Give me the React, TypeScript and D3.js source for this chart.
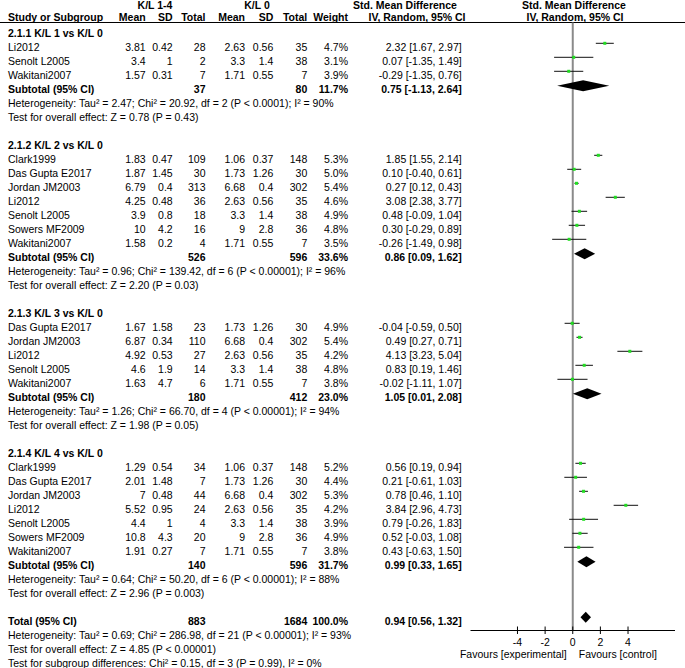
import React from "react";
import * as d3 from "d3";

// ---------- data ----------
const groupTitles = [
  "2.1.1 K/L 1 vs K/L 0",
  "2.1.2 K/L 2 vs K/L 0",
  "2.1.3 K/L 3 vs K/L 0",
  "2.1.4 K/L 4 vs K/L 0",
];

const studyGroup = [0, 0, 0, 1, 1, 1, 1, 1, 1, 1, 2, 2, 2, 2, 2, 3, 3, 3, 3, 3, 3, 3];
const studyNames = [
  "Li2012", "Senolt L2005", "Wakitani2007",
  "Clark1999", "Das Gupta E2017", "Jordan JM2003", "Li2012", "Senolt L2005", "Sowers MF2009", "Wakitani2007",
  "Das Gupta E2017", "Jordan JM2003", "Li2012", "Senolt L2005", "Wakitani2007",
  "Clark1999", "Das Gupta E2017", "Jordan JM2003", "Li2012", "Senolt L2005", "Sowers MF2009", "Wakitani2007",
];
const expMean = [3.81, 3.4, 1.57, 1.83, 1.87, 6.79, 4.25, 3.9, 10, 1.58, 1.67, 6.87, 4.92, 4.6, 1.63, 1.29, 2.01, 7, 5.52, 4.4, 10.8, 1.91];
const expSD = [0.42, 1, 0.31, 0.47, 1.45, 0.4, 0.48, 0.8, 4.2, 0.2, 1.58, 0.34, 0.53, 1.9, 4.7, 0.54, 1.48, 0.48, 0.95, 1, 4.3, 0.27];
const expN = [28, 2, 7, 109, 30, 313, 36, 18, 16, 4, 23, 110, 27, 14, 6, 34, 7, 44, 24, 4, 20, 7];
const ctlMean = [2.63, 3.3, 1.71, 1.06, 1.73, 6.68, 2.63, 3.3, 9, 1.71, 1.73, 6.68, 2.63, 3.3, 1.71, 1.06, 1.73, 6.68, 2.63, 3.3, 9, 1.71];
const ctlSD = [0.56, 1.4, 0.55, 0.37, 1.26, 0.4, 0.56, 1.4, 2.8, 0.55, 1.26, 0.4, 0.56, 1.4, 0.55, 0.37, 1.26, 0.4, 0.56, 1.4, 2.8, 0.55];
const ctlN = [35, 38, 7, 148, 30, 302, 35, 38, 36, 7, 30, 302, 35, 38, 7, 148, 30, 302, 35, 38, 36, 7];
const weights = [4.7, 3.1, 3.9, 5.3, 5.0, 5.4, 4.6, 4.9, 4.8, 3.5, 4.9, 5.4, 4.2, 4.8, 3.8, 5.2, 4.4, 5.3, 4.2, 3.9, 4.9, 3.8];
const smd = [2.32, 0.07, -0.29, 1.85, 0.10, 0.27, 3.08, 0.48, 0.30, -0.26, -0.04, 0.49, 4.13, 0.83, -0.02, 0.56, 0.21, 0.78, 3.84, 0.79, 0.52, 0.43];
const ciLow = [1.67, -1.35, -1.35, 1.55, -0.40, 0.12, 2.38, -0.09, -0.29, -1.49, -0.59, 0.27, 3.23, 0.19, -1.11, 0.19, -0.61, 0.46, 2.96, -0.26, -0.03, -0.63];
const ciHigh = [2.97, 1.49, 0.76, 2.14, 0.61, 0.43, 3.77, 1.04, 0.89, 0.98, 0.50, 0.71, 5.04, 1.46, 1.07, 0.94, 1.03, 1.10, 4.73, 1.83, 1.08, 1.50];

const subExpN = [37, 526, 180, 140];
const subCtlN = [80, 596, 412, 596];
const subWeight = [11.7, 33.6, 23.0, 31.7];
const subSmd = [0.75, 0.86, 1.05, 0.99];
const subLow = [-1.13, 0.09, 0.01, 0.33];
const subHigh = [2.64, 1.62, 2.08, 1.65];
const subHet = [
  "Heterogeneity: Tau² = 2.47; Chi² = 20.92, df = 2 (P < 0.0001); I² = 90%",
  "Heterogeneity: Tau² = 0.96; Chi² = 139.42, df = 6 (P < 0.00001); I² = 96%",
  "Heterogeneity: Tau² = 1.26; Chi² = 66.70, df = 4 (P < 0.00001); I² = 94%",
  "Heterogeneity: Tau² = 0.64; Chi² = 50.20, df = 6 (P < 0.00001); I² = 88%",
];
const subTest = [
  "Test for overall effect: Z = 0.78 (P = 0.43)",
  "Test for overall effect: Z = 2.20 (P = 0.03)",
  "Test for overall effect: Z = 1.98 (P = 0.05)",
  "Test for overall effect: Z = 2.96 (P = 0.003)",
];

const totalExpN = 883;
const totalCtlN = 1684;
const totalWeight = 100.0;
const totalSmd = [0.94, 0.56, 1.32];
const totalTexts = [
  "Heterogeneity: Tau² = 0.69; Chi² = 286.98, df = 21 (P < 0.00001); I² = 93%",
  "Test for overall effect: Z = 4.85 (P < 0.00001)",
  "Test for subgroup differences: Chi² = 0.15, df = 3 (P = 0.99), I² = 0%",
];

const axisTicks = [-4, -2, 0, 2, 4];
const axisDomain = [-7.4, 7.4];
const favoursLeft = "Favours [experimental]";
const favoursRight = "Favours [control]";

// ---------- layout ----------
const W = 685;
const H = 668;
const FONT = "'Liberation Sans', Arial, Helvetica, sans-serif";
const FS = 10.5;
const rowText = (i: number) => 37 + 14 * i;
const rowMark = (i: number) => 29.3 + 14 * i;
const COL = { name: 8, m1: 145.7, sd1: 172.7, n1: 205.5, m2: 245, sd2: 273.3, n2: 307.3, w: 348, ci: 461.7 };
const AXIS_Y = 630.5;
const TOP_LINE = 22.5;

const fmtCI = (m: number, l: number, h: number) => `${m.toFixed(2)} [${l.toFixed(2)}, ${h.toFixed(2)}]`;

type Row =
  | { kind: "title"; text: string; i: number }
  | { kind: "study"; s: number; i: number }
  | { kind: "sub"; g: number; i: number }
  | { kind: "note"; text: string; i: number }
  | { kind: "total"; i: number };

export default function App() {
  const x = d3.scaleLinear().domain(axisDomain).range([470.5, 675]);

  const rows: Row[] = [];
  let r = 0;
  groupTitles.forEach((t, g) => {
    rows.push({ kind: "title", text: t, i: r++ });
    studyNames.forEach((_, s) => {
      if (studyGroup[s] === g) rows.push({ kind: "study", s, i: r++ });
    });
    rows.push({ kind: "sub", g, i: r++ });
    rows.push({ kind: "note", text: subHet[g], i: r++ });
    rows.push({ kind: "note", text: subTest[g], i: r++ });
    r++;
  });
  rows.push({ kind: "total", i: r++ });
  totalTexts.forEach((t) => rows.push({ kind: "note", text: t, i: r++ }));

  const diamond = (m: number, l: number, h: number, y: number, hh = 5.5) =>
    `M${x(l)},${y} L${x(m)},${y - hh} L${x(h)},${y} L${x(m)},${y + hh} Z`;

  const T = (props: any) => (
    <text fontFamily={FONT} fontSize={FS} fill="#000" {...props} />
  );

  return (
    <svg width={W} height={H} style={{ position: "absolute", left: 0, top: 0, background: "#fff" }}>
      <rect width={W} height={H} fill="#fff" />
      {/* headers */}
      <T x={155} y={9} textAnchor="middle" fontWeight="bold">K/L 1-4</T>
      <T x={257} y={9} textAnchor="middle" fontWeight="bold">K/L 0</T>
      <T x={405} y={9} textAnchor="middle" fontWeight="bold">Std. Mean Difference</T>
      <T x={574} y={9} textAnchor="middle" fontWeight="bold">Std. Mean Difference</T>
      <T x={COL.name} y={20.5} fontWeight="bold">Study or Subgroup</T>
      <T x={COL.m1} y={20.5} textAnchor="end" fontWeight="bold">Mean</T>
      <T x={COL.sd1} y={20.5} textAnchor="end" fontWeight="bold">SD</T>
      <T x={COL.n1} y={20.5} textAnchor="end" fontWeight="bold">Total</T>
      <T x={COL.m2} y={20.5} textAnchor="end" fontWeight="bold">Mean</T>
      <T x={COL.sd2} y={20.5} textAnchor="end" fontWeight="bold">SD</T>
      <T x={COL.n2} y={20.5} textAnchor="end" fontWeight="bold">Total</T>
      <T x={COL.w} y={20.5} textAnchor="end" fontWeight="bold">Weight</T>
      <T x={417} y={20.5} textAnchor="middle" fontWeight="bold">IV, Random, 95% CI</T>
      <T x={575} y={20.5} textAnchor="middle" fontWeight="bold">IV, Random, 95% CI</T>
      <line x1={0} x2={W} y1={TOP_LINE} y2={TOP_LINE} stroke="#000" strokeWidth={1} />

      {/* zero line */}
      <line x1={x(0)} x2={x(0)} y1={TOP_LINE} y2={AXIS_Y} stroke="#8a8a8a" strokeWidth={2} />

      {rows.map((row, k) => {
        const ty = rowText(row.i);
        const my = rowMark(row.i);
        if (row.kind === "title") {
          return <T key={k} x={COL.name} y={ty} fontWeight="bold">{row.text}</T>;
        }
        if (row.kind === "note") {
          return <T key={k} x={COL.name} y={ty}>{row.text}</T>;
        }
        if (row.kind === "study") {
          const s = row.s;
          return (
            <g key={k}>
              <T x={COL.name} y={ty}>{studyNames[s]}</T>
              <T x={COL.m1} y={ty} textAnchor="end">{String(expMean[s])}</T>
              <T x={COL.sd1} y={ty} textAnchor="end">{String(expSD[s])}</T>
              <T x={COL.n1} y={ty} textAnchor="end">{String(expN[s])}</T>
              <T x={COL.m2} y={ty} textAnchor="end">{String(ctlMean[s])}</T>
              <T x={COL.sd2} y={ty} textAnchor="end">{String(ctlSD[s])}</T>
              <T x={COL.n2} y={ty} textAnchor="end">{String(ctlN[s])}</T>
              <T x={COL.w} y={ty} textAnchor="end">{weights[s].toFixed(1) + "%"}</T>
              <T x={COL.ci} y={ty} textAnchor="end">{fmtCI(smd[s], ciLow[s], ciHigh[s])}</T>
              <line x1={x(ciLow[s])} x2={x(ciHigh[s])} y1={my} y2={my} stroke="#111" strokeWidth={1} />
              <rect x={x(smd[s]) - 1.5} y={my - 1.5} width={3} height={3} fill="#22dd22" />
            </g>
          );
        }
        if (row.kind === "sub") {
          const g = row.g;
          return (
            <g key={k} fontWeight="bold">
              <T x={COL.name} y={ty} fontWeight="bold">Subtotal (95% CI)</T>
              <T x={COL.n1} y={ty} textAnchor="end" fontWeight="bold">{String(subExpN[g])}</T>
              <T x={COL.n2} y={ty} textAnchor="end" fontWeight="bold">{String(subCtlN[g])}</T>
              <T x={COL.w} y={ty} textAnchor="end" fontWeight="bold">{subWeight[g].toFixed(1) + "%"}</T>
              <T x={COL.ci} y={ty} textAnchor="end" fontWeight="bold">{fmtCI(subSmd[g], subLow[g], subHigh[g])}</T>
              <path d={diamond(subSmd[g], subLow[g], subHigh[g], my + 0.5)} fill="#000" />
            </g>
          );
        }
        // total
        return (
          <g key={k}>
            <T x={COL.name} y={ty} fontWeight="bold">Total (95% CI)</T>
            <T x={COL.n1} y={ty} textAnchor="end" fontWeight="bold">{String(totalExpN)}</T>
            <T x={COL.n2} y={ty} textAnchor="end" fontWeight="bold">{String(totalCtlN)}</T>
            <T x={COL.w} y={ty} textAnchor="end" fontWeight="bold">{totalWeight.toFixed(1) + "%"}</T>
            <T x={COL.ci} y={ty} textAnchor="end" fontWeight="bold">{fmtCI(totalSmd[0], totalSmd[1], totalSmd[2])}</T>
            <path d={diamond(totalSmd[0], totalSmd[1], totalSmd[2], my)} fill="#000" />
          </g>
        );
      })}

      {/* axis */}
      <line x1={x(axisDomain[0])} x2={x(axisDomain[1])} y1={AXIS_Y} y2={AXIS_Y} stroke="#000" strokeWidth={1} />
      {axisTicks.map((t) => (
        <g key={t}>
          <line x1={x(t)} x2={x(t)} y1={AXIS_Y - 4} y2={AXIS_Y + 3.5} stroke="#000" strokeWidth={1} />
          <T x={x(t)} y={645.5} textAnchor="middle">{String(t)}</T>
        </g>
      ))}
      <T x={x(0) - 6} y={658} textAnchor="end">{favoursLeft}</T>
      <T x={x(0) + 6} y={658} textAnchor="start">{favoursRight}</T>
    </svg>
  );
}
